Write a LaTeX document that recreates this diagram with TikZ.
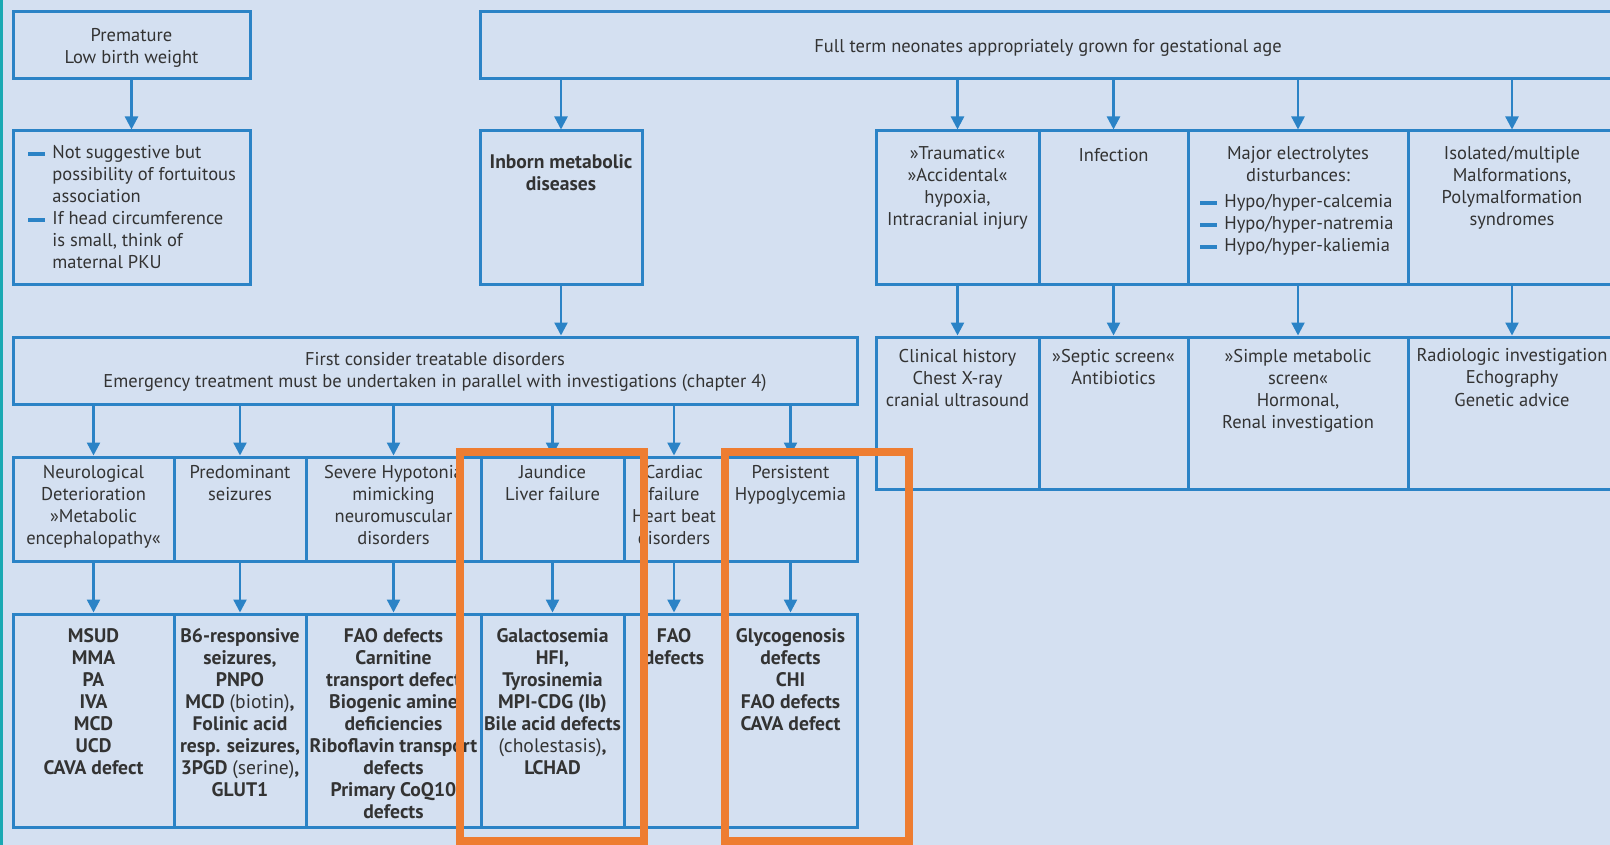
\documentclass[tikz,border=0pt]{standalone}
\usepackage{fontspec}
\setmainfont{PT Sans}
\usetikzlibrary{arrows.meta,fit}
\definecolor{bgc}{HTML}{D4E0F1}
\definecolor{lb}{HTML}{2B83C6}
\definecolor{tx}{HTML}{333333}
\definecolor{hlc}{HTML}{EE7D31}
\definecolor{tealc}{HTML}{1AA9B3}
\newcommand{\bdash}{\textcolor{lb}{\rule[1.4pt]{8.5pt}{2pt}}}
\newcommand{\myrf}{\fontsize{9.25}{11}\selectfont}
\newcommand{\mybf}{\fontsize{9.8}{11}\selectfont\bfseries}
\begin{document}
\begin{tikzpicture}[x=0.5pt,y=-0.5pt,
 box/.style={draw=lb, line width=1.5pt, inner sep=0pt},
 txt/.style={font=\myrf, text=tx, align=center, inner sep=0pt, anchor=north, execute at begin node=\strut},
 btxt/.style={txt, font=\mybf},
 ctxt/.style={font=\myrf, text=tx, align=center, inner sep=0pt},
 ltxt/.style={font=\myrf, text=tx, inner sep=0pt, anchor=north west},
 arr/.style={draw=lb, line width=1.2pt, -{Triangle[width=6.5pt,length=6.5pt]}},
 hl/.style={draw=hlc, line width=4pt, inner sep=0pt}]
\clip (0,0) rectangle (1610,845);
\fill[bgc] (0,0) rectangle (1610,845);
\fill[tealc] (0,0) rectangle (3,845);

% top row
\node[box, fit={(13,12)(250,79)}] (prem) {};
\node[ctxt] (premT) at ([yshift=-1pt]prem.center) {Premature\\Low birth weight};
\node[box, fit={(480,12)(1616,79)}] (full) {};
\node[ctxt] (fullT) at ([yshift=-1pt]full.center) {Full term neonates appropriately grown for gestational age};

% second row
\node[box, fit={(13,131)(250,284)}] (note) {};
\node[ltxt] (noteT) at (28,143) {\begin{tabular}{@{}l@{\hspace{3.5pt}}l@{}}
\bdash & Not suggestive but\\
 & possibility of fortuitous\\
 & association\\
\bdash & If head circumference\\
 & is small, think of\\
 & maternal PKU
\end{tabular}};
\node[box, fit={(480,131)(642,284)}] (inborn) {};
\node[btxt] (inbornT) at ([yshift=-12.5pt]inborn.north) {Inborn metabolic\\diseases};

\node[box, fit={(876,131)(1039,284)}] (trauma) {};
\node[box, fit={(1039,131)(1188,284)}] (infect) {};
\node[box, fit={(1188,131)(1408,284)}] (major) {};
\node[box, fit={(1408,131)(1616,284)}] (isol) {};
\node[txt] (traumaT) at ([yshift=-8.3pt]trauma.north) {»Traumatic«\\»Accidental«\\hypoxia,\\Intracranial injury};
\node[txt] (infectT) at ([yshift=-8.3pt]infect.north) {Infection};
\node[txt] (majorT) at ([yshift=-8.3pt]major.north) {Major electrolytes\\disturbances:};
\node[ltxt] (majorL) at (1200,192) {\begin{tabular}{@{}l@{\hspace{3.5pt}}l@{}}
\bdash & Hypo/hyper-calcemia\\
\bdash & Hypo/hyper-natremia\\
\bdash & Hypo/hyper-kaliemia
\end{tabular}};
\node[txt] (isolT) at ([yshift=-8pt]isol.north) {Isolated/multiple\\Malformations,\\Polymalformation\\syndromes};

% third band
\node[box, fit={(13,337)(857,404)}] (first) {};
\node[ctxt] (firstT) at ([yshift=-0.5pt]first.center) {First consider treatable disorders\\Emergency treatment must be undertaken in parallel with investigations (chapter 4)};

\node[box, fit={(876,337)(1039,489)}] (clin) {};
\node[box, fit={(1039,337)(1188,489)}] (septic) {};
\node[box, fit={(1188,337)(1408,489)}] (simple) {};
\node[box, fit={(1408,337)(1616,489)}] (radio) {};
\node[txt] (clinT) at ([yshift=-6.5pt]clin.north) {Clinical history\\Chest X-ray\\cranial ultrasound};
\node[txt] (septicT) at ([yshift=-6.5pt]septic.north) {»Septic screen«\\Antibiotics};
\node[txt] (simpleT) at ([yshift=-6.5pt]simple.north) {»Simple metabolic\\screen«\\Hormonal,\\Renal investigation};
\node[txt] (radioT) at ([yshift=-6.5pt]radio.north) {Radiologic investigation\\Echography\\Genetic advice};

% row 3
\node[box, fit={(13,457)(174,561)}] (neuro) {};
\node[box, fit={(174,457)(306,561)}] (pred) {};
\node[box, fit={(306,457)(481,561)}] (hypo) {};
\node[box, fit={(481,457)(624,561)}] (jaun) {};
\node[box, fit={(624,457)(724,561)}] (card) {};
\node[box, fit={(724,457)(857,561)}] (pers) {};
\node[txt] (neuroT) at ([yshift=-4.5pt]neuro.north) {Neurological\\Deterioration\\»Metabolic\\encephalopathy«};
\node[txt] (predT) at ([yshift=-4.5pt]pred.north) {Predominant\\seizures};
\node[txt] (hypoT) at ([yshift=-4.5pt]hypo.north) {Severe Hypotonia\\mimicking\\neuromuscular\\disorders};
\node[txt] (jaunT) at ([yshift=-4.5pt]jaun.north) {Jaundice\\Liver failure};
\node[txt] (cardT) at ([yshift=-4.5pt]card.north) {Cardiac\\failure\\Heart beat\\disorders};
\node[txt] (persT) at ([yshift=-4.5pt]pers.north) {Persistent\\Hypoglycemia};

% row 4
\node[box, fit={(13,614)(174,827)}] (msud) {};
\node[box, fit={(174,614)(306,827)}] (bsix) {};
\node[box, fit={(306,614)(481,827)}] (fao) {};
\node[box, fit={(481,614)(624,827)}] (gal) {};
\node[box, fit={(624,614)(724,827)}] (faod) {};
\node[box, fit={(724,614)(857,827)}] (glyc) {};
\node[btxt] (msudT) at ([yshift=-8pt]msud.north) {MSUD\\MMA\\PA\\IVA\\MCD\\UCD\\CAVA defect};
\node[btxt] (bsixT) at ([yshift=-8pt]bsix.north) {B6-responsive\\seizures,\\PNPO\\MCD {\mdseries(biotin)},\\Folinic acid\\resp. seizures,\\3PGD {\mdseries(serine)},\\GLUT1};
\node[btxt] (faoT) at ([yshift=-8pt]fao.north) {FAO defects\\Carnitine\\transport defect\\Biogenic amine\\deficiencies\\Riboflavin transport\\defects\\Primary CoQ10\\defects};
\node[btxt] (galT) at ([yshift=-8pt]gal.north) {Galactosemia\\HFI,\\Tyrosinemia\\MPI-CDG (Ib)\\Bile acid defects\\{\mdseries(cholestasis)},\\LCHAD};
\node[btxt] (faodT) at ([yshift=-8pt]faod.north) {FAO\\defects};
\node[btxt] (glycT) at ([yshift=-8pt]glyc.north) {Glycogenosis\\defects\\CHI\\FAO defects\\CAVA defect};

% arrows
\draw[arr] (prem.south) -- (note.north);
\draw[arr] (full.south -| inborn.north) -- (inborn.north);
\foreach \n in {trauma,infect,major,isol}{\draw[arr] (full.south -| \n.north) -- (\n.north);}
\draw[arr] (inborn.south) -- (inborn.south |- first.north);
\draw[arr] (trauma.south) -- (clin.north);
\draw[arr] (infect.south) -- (septic.north);
\draw[arr] (major.south) -- (simple.north);
\draw[arr] (isol.south) -- (radio.north);
\foreach \n in {neuro,pred,hypo,jaun,card,pers}{\draw[arr] (first.south -| \n.north) -- (\n.north);}
\draw[arr] (neuro.south) -- (msud.north);
\draw[arr] (pred.south) -- (bsix.north);
\draw[arr] (hypo.south) -- (fao.north);
\draw[arr] (jaun.south) -- (gal.north);
\draw[arr] (card.south) -- (faod.north);
\draw[arr] (pers.south) -- (glyc.north);

% highlight frames
\node[hl, fit={(460,452)(644,841)}] (hlA) {};
\node[hl, fit={(725,452)(909,841)}] (hlB) {};
\end{tikzpicture}
\end{document}
